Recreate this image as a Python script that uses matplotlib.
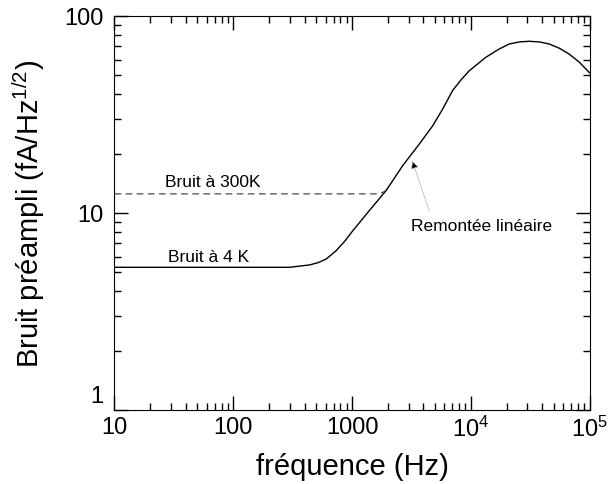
import matplotlib
matplotlib.use("Agg")
import matplotlib.pyplot as plt
from matplotlib.ticker import LogLocator, NullFormatter
from matplotlib.transforms import ScaledTranslation

plt.rcParams['font.family'] = ['Liberation Sans', 'DejaVu Sans']
plt.rcParams['mathtext.default'] = 'regular'

# courbe de bruit du préampli
freq = [10, 100, 298, 440, 520, 607, 736, 870, 1016, 1403, 1937, 2673, 3690,
        4780, 5800, 7030, 8300, 9710, 13400, 17000, 21100, 26000, 31000,
        38000, 45700, 56000, 67300, 82000, 100000]
bruit = [5.3, 5.3, 5.3, 5.45, 5.6, 5.84, 6.44, 7.2, 8.13, 10.3, 13.0, 17.4,
         22.4, 27.7, 33.7, 41.8, 47.5, 52.7, 61.7, 67.5, 72.1, 73.9, 74.4,
         73.8, 72.1, 68.5, 64.1, 58.3, 51.5]

# bruit à 300 K (tirets)
freq_300 = [10, 1650, 1800, 1937]
bruit_300 = [12.5, 12.5, 12.7, 13.0]

xticks = [10, 100, 1000, 1e4, 1e5]
xlabels = ['10', '100', '1000', r'$10^4$', r'$10^5$']
yticks = [1, 10, 100]
ylabels = ['1', '10', '100']

fig = plt.figure(figsize=(6.09, 4.85), dpi=100)
ax = fig.add_axes([0.188, 0.1526, 0.78, 0.8124])

ax.plot(freq, bruit, color='black', lw=1.0)
ax.plot(freq_300, bruit_300, color='0.2', lw=0.8, dashes=(6, 4))

ax.set_xscale('log')
ax.set_yscale('log')
ax.set_xlim(10, 1e5)
ax.set_ylim(1, 100)
ax.set_xticks(xticks)
ax.set_xticklabels(xlabels)
ax.set_yticks(yticks)
ax.set_yticklabels(ylabels)
for axis in (ax.xaxis, ax.yaxis):
    axis.set_minor_locator(LogLocator(base=10, subs=range(2, 10), numticks=50))
    axis.set_minor_formatter(NullFormatter())

ax.tick_params(which='major', direction='in', length=10, width=1.0,
               color='black', top=True, right=True, labelsize=17)
ax.tick_params(which='minor', direction='in', length=5, width=1.0,
               color='black', top=True, right=True)
ax.tick_params(axis='x', which='major', pad=4)
ax.tick_params(axis='y', which='major', pad=8)

# le "1" de l'axe y est un peu remonté dans l'original
lab1 = ax.get_yticklabels()[0]
lab1.set_transform(lab1.get_transform() + ScaledTranslation(0, 0.16, fig.dpi_scale_trans))

ax.set_xlabel('fréquence (Hz)', fontsize=21, labelpad=8)
ax.set_ylabel(r'Bruit préampli (fA/Hz$^{1/2}$)', fontsize=21, labelpad=12)

ax.text(26.6, 13.7, 'Bruit à 300K', fontsize=12.5, va='baseline', ha='left')
ax.text(28.2, 5.71, 'Bruit à 4 K', fontsize=12.5, va='baseline', ha='left')
ax.text(3162, 8.23, 'Remontée linéaire', fontsize=12.5, va='baseline', ha='left')
ax.annotate('', xy=(3220, 18.4), xytext=(4480, 10.2),
            arrowprops=dict(arrowstyle='-|>', edgecolor='0.7', facecolor='black',
                            lw=0.5, shrinkA=0, shrinkB=0, mutation_scale=12))

fig.savefig('out.png', dpi=100)
